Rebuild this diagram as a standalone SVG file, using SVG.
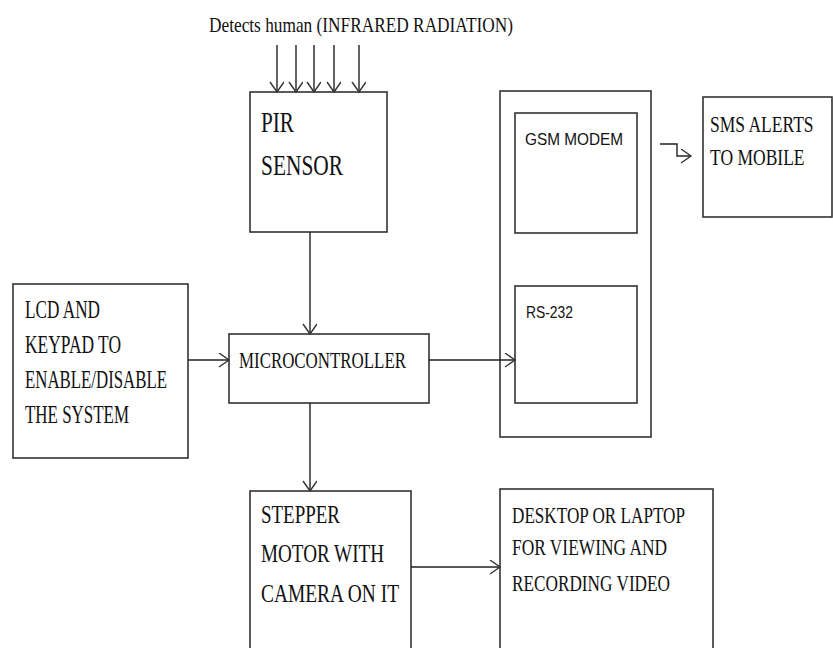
<svg xmlns="http://www.w3.org/2000/svg" width="833" height="648" viewBox="0 0 833 648">
<style>
.box{fill:#fff;stroke:#333;stroke-width:1.6}
.ln{fill:none;stroke:#222;stroke-width:1.4}
.t{font-family:"Liberation Serif","Times New Roman",serif;fill:#111}
.s{font-family:"Liberation Sans",Arial,sans-serif;fill:#111}
</style>
<defs>
<marker id="ah" markerUnits="userSpaceOnUse" markerWidth="14" markerHeight="16" refX="11" refY="7" orient="auto">
<path d="M1,0 L11,7 L1,14" fill="none" stroke="#333" stroke-width="1.4"/>
</marker>
</defs>
<rect width="833" height="648" fill="#fff"/>
<text class="t" x="209" y="32" font-size="21" textLength="304" lengthAdjust="spacingAndGlyphs">Detects human (INFRARED RADIATION)</text>
<g id="pir">
<rect class="box" x="250" y="92" width="137" height="140"/>
<text class="t" x="261" y="132" font-size="30" textLength="33" lengthAdjust="spacingAndGlyphs">PIR</text>
<text class="t" x="261" y="175" font-size="30" textLength="82" lengthAdjust="spacingAndGlyphs">SENSOR</text>
</g>
<g id="comm">
<rect class="box" x="500" y="91" width="151" height="346"/>
</g>
<g id="gsm">
<rect class="box" x="515" y="113" width="122" height="120"/>
<text class="s" x="525" y="145" font-size="17" textLength="98" lengthAdjust="spacingAndGlyphs">GSM MODEM</text>
</g>
<g id="rs232">
<rect class="box" x="515" y="286" width="122" height="117"/>
<text class="s" x="526" y="318" font-size="17" textLength="47" lengthAdjust="spacingAndGlyphs">RS-232</text>
</g>
<g id="sms">
<rect class="box" x="703" y="97" width="129" height="120"/>
<g transform="translate(710,0) scale(0.762,1)">
<text class="t" x="0" y="132" font-size="23">SMS ALERTS</text>
<text class="t" x="0" y="165" font-size="23">TO MOBILE</text>
</g>
</g>
<g id="lcd">
<rect class="box" x="13" y="284" width="175" height="174"/>
<text class="t" x="25" y="318" font-size="25" textLength="75" lengthAdjust="spacingAndGlyphs">LCD AND</text>
<text class="t" x="25" y="353" font-size="25" textLength="96" lengthAdjust="spacingAndGlyphs">KEYPAD TO</text>
<text class="t" x="25" y="388" font-size="25" textLength="142" lengthAdjust="spacingAndGlyphs">ENABLE/DISABLE</text>
<text class="t" x="25" y="423" font-size="25" textLength="104" lengthAdjust="spacingAndGlyphs">THE SYSTEM</text>
</g>
<g id="micro">
<rect class="box" x="229" y="334" width="200" height="69"/>
<text class="t" x="239" y="368" font-size="24" textLength="167" lengthAdjust="spacingAndGlyphs">MICROCONTROLLER</text>
</g>
<g id="stepper">
<rect class="box" x="250" y="491" width="161" height="170"/>
<text class="t" x="261" y="523" font-size="25" textLength="79" lengthAdjust="spacingAndGlyphs">STEPPER</text>
<text class="t" x="261" y="562" font-size="25" textLength="123" lengthAdjust="spacingAndGlyphs">MOTOR WITH</text>
<text class="t" x="261" y="602" font-size="25" textLength="138" lengthAdjust="spacingAndGlyphs">CAMERA ON IT</text>
</g>
<g id="desktop">
<rect class="box" x="500" y="489" width="213" height="172"/>
<text class="t" x="512" y="523" font-size="24" textLength="173" lengthAdjust="spacingAndGlyphs">DESKTOP OR LAPTOP</text>
<text class="t" x="512" y="555" font-size="24" textLength="155" lengthAdjust="spacingAndGlyphs">FOR VIEWING AND</text>
<text class="t" x="512" y="591" font-size="24" textLength="158" lengthAdjust="spacingAndGlyphs">RECORDING VIDEO</text>
</g>
<g id="connectors">
<line class="ln" x1="277" y1="45" x2="277" y2="92" marker-end="url(#ah)"/>
<line class="ln" x1="296" y1="45" x2="296" y2="92" marker-end="url(#ah)"/>
<line class="ln" x1="314" y1="45" x2="314" y2="92" marker-end="url(#ah)"/>
<line class="ln" x1="334" y1="45" x2="334" y2="92" marker-end="url(#ah)"/>
<line class="ln" x1="359" y1="45" x2="359" y2="92" marker-end="url(#ah)"/>
<line class="ln" x1="310" y1="232" x2="310" y2="334" marker-end="url(#ah)"/>
<line class="ln" x1="188" y1="360" x2="229" y2="360" marker-end="url(#ah)"/>
<line class="ln" x1="429" y1="360" x2="515" y2="360" marker-end="url(#ah)"/>
<line class="ln" x1="310" y1="403" x2="310" y2="491" marker-end="url(#ah)"/>
<line class="ln" x1="411" y1="567" x2="500" y2="567" marker-end="url(#ah)"/>
<polyline class="ln" points="660,144 677,144 677,156 691,156" marker-end="url(#ah)"/>
</g>
</svg>
